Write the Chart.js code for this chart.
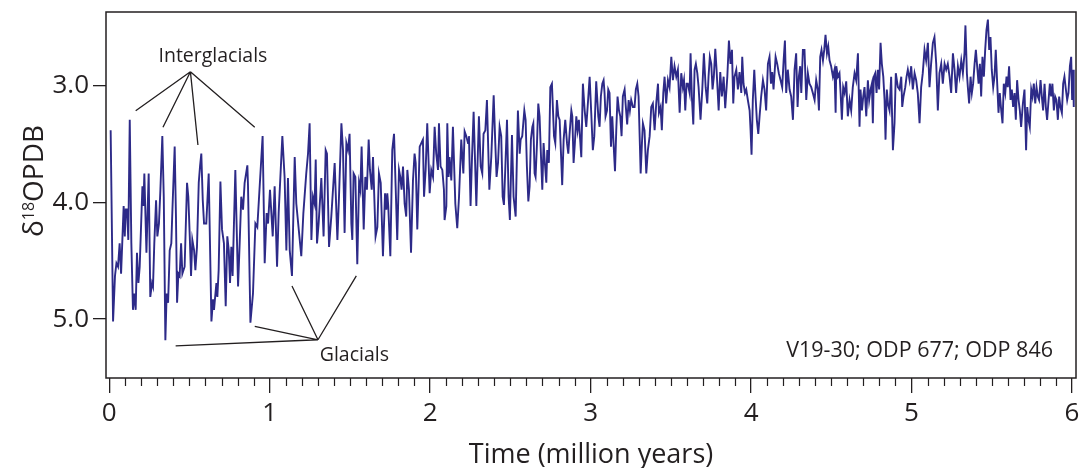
<!DOCTYPE html>
<html>
<head>
<meta charset="utf-8">
<script src="https://cdn.jsdelivr.net/npm/chart.js@4.4.1/dist/chart.umd.min.js"></script>
<style>
  html, body { margin: 0; padding: 0; background: #fff; }
  canvas { display: block; }
</style>
</head>
<body>
<canvas id="chart" width="1083" height="468"></canvas>
<script>
// Stacked benthic d18O record, 0-6 Ma (V19-30; ODP 677; ODP 846)
const ages = [
  0.009,0.024,0.036,0.045,0.055,0.065,0.074,0.082,0.090,0.097,
  0.103,0.111,0.119,0.128,0.138,0.148,0.157,0.165,0.173,0.182,
  0.190,0.202,0.207,0.213,0.219,0.232,0.246,0.256,0.267,0.273,
  0.281,0.292,0.300,0.310,0.319,0.331,0.340,0.350,0.358,0.367,
  0.377,0.387,0.394,0.408,0.416,0.423,0.431,0.439,0.448,0.456,
  0.470,0.485,0.493,0.502,0.510,0.518,0.529,0.537,0.547,0.558,
  0.566,0.574,0.583,0.591,0.605,0.620,0.637,0.647,0.653,0.668,
  0.674,0.682,0.693,0.703,0.715,0.726,0.736,0.745,0.753,0.761,
  0.769,0.786,0.803,0.813,0.823,0.834,0.844,0.861,0.865,0.880,
  0.896,0.911,0.923,0.956,0.969,0.981,0.990,1.002,1.019,1.031,
  1.046,1.056,1.079,1.093,1.104,1.114,1.125,1.139,1.156,1.166,
  1.197,1.210,1.228,1.239,1.249,1.260,1.270,1.280,1.287,1.295,
  1.305,1.322,1.336,1.349,1.357,1.370,1.384,1.405,1.422,1.432,
  1.447,1.457,1.467,1.478,1.488,1.498,1.509,1.515,1.523,1.534,
  1.546,1.557,1.565,1.573,1.586,1.596,1.606,1.617,1.625,1.636,
  1.644,1.660,1.671,1.681,1.692,1.706,1.719,1.727,1.733,1.739,
  1.752,1.764,1.775,1.785,1.795,1.806,1.814,1.822,1.831,1.841,
  1.851,1.858,1.868,1.881,1.893,1.903,1.910,1.920,1.928,1.935,
  1.945,1.955,1.962,1.972,1.982,1.997,2.007,2.018,2.028,2.038,
  2.049,2.055,2.065,2.076,2.086,2.090,2.101,2.107,2.115,2.121,
  2.132,2.142,2.157,2.169,2.180,2.194,2.207,2.215,2.225,2.236,
  2.242,2.252,2.261,2.271,2.288,2.304,2.315,2.325,2.333,2.344,
  2.354,2.369,2.381,2.396,2.406,2.414,2.423,2.433,2.443,2.452,
  2.460,2.468,2.479,2.489,2.497,2.510,2.520,2.533,2.547,2.558,
  2.564,2.574,2.587,2.595,2.603,2.612,2.620,2.628,2.637,2.643,
  2.651,2.657,2.666,2.674,2.682,2.691,2.699,2.707,2.715,2.724,
  2.730,2.740,2.749,2.759,2.772,2.780,2.790,2.799,2.807,2.817,
  2.823,2.832,2.842,2.853,2.861,2.869,2.880,2.886,2.894,2.902,
  2.911,2.919,2.927,2.942,2.952,2.963,2.973,2.983,2.994,3.004,
  3.014,3.023,3.035,3.048,3.056,3.064,3.073,3.081,3.087,3.093,
  3.102,3.110,3.118,3.127,3.135,3.143,3.152,3.160,3.168,3.177,
  3.185,3.193,3.201,3.212,3.218,3.228,3.237,3.245,3.253,3.264,
  3.274,3.282,3.291,3.299,3.312,3.320,3.326,3.336,3.347,3.357,
  3.368,3.378,3.388,3.399,3.409,3.420,3.426,3.436,3.444,3.453,
  3.461,3.471,3.482,3.492,3.503,3.513,3.523,3.534,3.544,3.555,
  3.565,3.575,3.582,3.590,3.598,3.606,3.617,3.623,3.631,3.640,
  3.648,3.656,3.665,3.673,3.685,3.696,3.706,3.717,3.727,3.735,
  3.743,3.752,3.760,3.768,3.777,3.785,3.798,3.808,3.818,3.829,
  3.839,3.852,3.862,3.872,3.881,3.889,3.897,3.908,3.918,3.928,
  3.939,3.945,3.953,3.962,3.970,3.980,3.991,3.997,4.003,4.011,
  4.020,4.028,4.036,4.045,4.053,4.063,4.074,4.084,4.094,4.105,
  4.115,4.124,4.132,4.140,4.153,4.163,4.173,4.184,4.194,4.203,
  4.211,4.219,4.229,4.240,4.250,4.261,4.271,4.281,4.290,4.298,
  4.306,4.313,4.323,4.333,4.344,4.354,4.364,4.375,4.385,4.396,
  4.406,4.416,4.423,4.431,4.439,4.448,4.456,4.464,4.473,4.481,
  4.489,4.499,4.510,4.520,4.527,4.531,4.541,4.551,4.558,4.566,
  4.574,4.583,4.593,4.603,4.614,4.624,4.634,4.645,4.655,4.666,
  4.676,4.682,4.691,4.699,4.707,4.718,4.728,4.736,4.745,4.753,
  4.759,4.765,4.774,4.782,4.790,4.798,4.807,4.815,4.824,4.832,
  4.838,4.846,4.853,4.863,4.873,4.884,4.894,4.902,4.915,4.925,
  4.936,4.942,4.950,4.961,4.969,4.977,4.988,4.998,5.008,5.019,
  5.029,5.039,5.050,5.060,5.070,5.081,5.091,5.102,5.112,5.122,
  5.133,5.143,5.154,5.164,5.174,5.185,5.195,5.206,5.216,5.226,
  5.237,5.247,5.258,5.268,5.278,5.289,5.299,5.310,5.320,5.330,
  5.336,5.345,5.351,5.359,5.368,5.376,5.384,5.393,5.401,5.409,
  5.418,5.426,5.434,5.442,5.451,5.459,5.467,5.476,5.484,5.492,
  5.500,5.509,5.517,5.525,5.534,5.542,5.550,5.559,5.567,5.575,
  5.584,5.592,5.600,5.608,5.617,5.625,5.633,5.642,5.650,5.658,
  5.667,5.675,5.683,5.694,5.704,5.714,5.721,5.729,5.737,5.746,
  5.754,5.762,5.771,5.779,5.787,5.795,5.804,5.812,5.820,5.829,
  5.837,5.845,5.854,5.862,5.870,5.878,5.887,5.895,5.903,5.912,
  5.920,5.928,5.937,5.945,5.953,5.962,5.970,5.978,5.987,5.995,
  6.001,6.007,6.011
];

const d18O = [
  3.38,5.02,4.63,4.52,4.55,4.35,4.61,4.32,4.03,4.29,
  4.06,4.06,4.32,3.29,4.35,4.92,4.78,4.92,4.43,4.69,
  4.55,4.06,3.86,4.03,3.75,4.43,3.75,4.81,4.69,4.72,
  4.35,3.98,4.29,4.18,3.89,3.43,3.95,5.18,4.78,4.86,
  4.41,4.35,4.06,3.52,4.12,4.86,4.61,4.63,4.35,4.61,
  4.55,3.83,3.95,4.29,4.63,4.32,4.41,4.58,4.38,3.83,
  3.69,3.58,3.98,4.18,4.18,3.75,5.02,4.83,4.92,4.69,
  4.81,4.58,3.82,4.23,4.35,4.89,4.29,4.41,4.69,4.38,
  4.63,3.72,4.72,4.35,3.95,4.06,3.83,3.68,3.86,5.03,
  4.78,4.18,4.21,3.43,4.52,4.09,4.18,3.89,4.29,3.86,
  4.55,4.09,3.43,3.78,4.41,3.79,4.41,4.63,3.61,4.01,
  4.46,4.09,3.75,3.58,3.32,4.32,3.95,4.01,3.63,4.35,
  4.18,3.79,4.29,3.55,3.58,4.38,4.12,3.66,4.32,3.95,
  3.32,3.55,4.26,3.49,3.55,3.41,4.18,4.32,3.75,3.78,
  4.53,3.83,3.89,3.52,4.23,3.78,3.89,3.46,3.72,3.89,
  3.61,4.29,4.21,3.75,3.83,4.46,3.92,4.06,3.92,4.03,
  4.46,3.55,3.41,3.86,4.32,3.72,3.78,3.89,3.69,4.01,
  4.12,3.72,3.89,4.43,3.81,3.58,3.66,4.23,3.86,3.52,
  3.49,3.46,3.95,3.72,3.32,3.92,3.72,3.78,3.35,3.58,
  3.72,3.32,3.69,3.72,3.89,4.15,4.03,3.32,3.78,3.61,
  3.81,3.35,4.01,4.22,3.95,3.46,3.75,3.39,3.43,3.49,
  3.43,4.03,3.61,3.22,4.03,3.26,3.69,3.75,3.41,3.38,
  3.12,3.89,3.61,3.08,3.49,3.78,3.66,3.35,3.43,3.95,
  4.02,3.72,3.29,3.95,4.15,3.42,3.95,4.12,3.21,3.58,
  3.46,3.43,3.21,3.29,3.69,3.99,3.86,3.46,3.35,3.32,
  3.75,3.78,3.49,3.15,3.26,3.61,3.89,3.49,3.66,3.83,
  3.55,3.66,3.01,2.98,3.43,3.49,3.12,3.26,3.29,3.63,
  3.85,3.46,3.29,3.49,3.58,3.41,3.21,3.26,3.66,3.49,
  3.26,3.38,3.29,3.61,2.98,3.21,3.35,3.15,2.92,3.23,
  3.55,3.43,2.96,3.26,3.35,3.09,2.98,2.95,3.06,3.26,
  3.21,3.03,3.06,3.52,3.26,3.49,3.73,3.38,3.09,3.21,
  3.26,3.43,3.09,3.03,3.15,3.33,3.12,3.21,3.12,3.18,
  3.18,3.03,2.98,3.09,3.75,3.49,3.32,3.38,3.75,3.55,
  3.43,3.18,3.15,3.38,3.15,2.98,3.23,3.18,3.38,3.06,
  2.92,3.15,2.95,3.01,2.75,2.95,2.83,2.92,2.86,3.23,
  2.89,3.01,2.95,3.21,2.98,2.98,3.06,2.72,3.09,3.33,
  2.86,2.81,2.89,3.01,3.29,3.03,2.72,3.01,3.15,2.92,
  2.75,2.81,3.03,2.92,2.68,2.86,3.21,2.88,3.09,2.92,
  3.19,2.92,2.61,2.81,2.69,3.15,2.92,2.86,3.03,2.88,
  3.06,2.75,2.98,3.06,3.03,3.12,3.21,3.38,3.59,3.12,
  2.86,3.09,3.29,3.41,3.26,3.09,2.95,3.03,3.21,2.81,
  2.75,2.98,2.88,3.03,2.75,2.81,2.89,2.95,3.01,2.78,
  2.61,3.06,2.86,3.03,3.09,3.29,2.86,2.72,3.18,2.92,
  2.83,3.06,2.69,2.69,3.12,2.89,2.98,3.01,3.06,3.12,
  2.95,3.03,3.21,2.75,2.69,2.78,2.69,2.56,2.72,2.66,
  2.78,2.83,2.92,2.86,3.23,2.83,2.92,2.89,3.06,3.29,
  3.01,3.06,2.96,3.26,3.12,3.21,3.01,2.89,2.95,2.72,
  3.35,3.03,3.21,3.09,3.01,3.26,2.95,3.12,3.03,2.98,
  3.32,2.92,2.89,3.06,2.86,3.03,2.63,2.81,2.92,3.12,
  3.46,3.03,3.15,3.21,2.92,3.55,3.32,2.89,3.01,3.03,
  2.92,3.18,3.09,3.01,2.92,2.86,2.95,2.83,3.03,2.89,
  2.95,3.06,3.32,3.01,2.89,2.69,2.78,2.63,3.01,2.81,
  2.63,2.58,2.81,3.21,2.89,2.81,2.98,2.81,2.86,2.81,
  2.92,3.06,2.72,2.86,3.06,2.83,2.92,2.78,2.89,2.72,
  2.48,2.89,3.01,3.15,2.92,3.06,2.98,2.81,2.69,2.83,
  2.98,2.81,3.09,2.75,2.92,2.69,2.52,2.43,2.69,2.58,
  2.86,3.01,2.92,2.69,2.98,3.23,3.06,3.21,3.32,2.98,
  3.06,2.92,3.01,2.83,3.12,3.03,3.18,3.06,3.29,2.95,
  3.12,3.21,3.35,3.15,3.03,3.55,3.18,3.29,3.35,3.03,
  3.09,2.98,3.15,3.01,3.09,3.12,2.95,3.09,3.21,2.98,
  3.18,3.29,3.12,2.98,3.09,2.98,3.21,3.09,3.12,3.29,
  3.09,3.18,3.23,2.98,2.92,3.03,3.12,3.06,2.83,2.75,
  3.12,2.86,3.18
];

if (ages.length !== d18O.length) {
  throw new Error('ages/d18O length mismatch: ' + ages.length + ' vs ' + d18O.length);
}

const xTickValues = [0, 1, 2, 3, 4, 5, 6];
const yTickValues = [3.0, 4.0, 5.0];

// pointer lines for the labels, in (age, d18O) units
const interglacialHub = [0.506, 2.877];
const interglacialTips = [[0.165, 3.212], [0.335, 3.354], [0.553, 3.506], [0.907, 3.354]];
const glacialHub = [1.301, 5.177];
const glacialTips = [[0.414, 5.229], [0.907, 5.063], [1.139, 4.715], [1.540, 4.629]];

const FONT = '"Open Sans", "Noto Sans", sans-serif';
const INK = '#231f20';
const LINE_BLUE = '#2d2a88';

const decorations = {
  id: 'decorations',
  afterDraw(chart) {
    const { ctx, chartArea: a, scales: { x, y } } = chart;
    ctx.save();

    // plot frame
    ctx.strokeStyle = INK;
    ctx.lineWidth = 1.5;
    ctx.strokeRect(a.left, a.top, a.right - a.left, a.bottom - a.top);

    // minor ticks every 0.1 Myr
    ctx.lineWidth = 1.2;
    ctx.beginPath();
    for (let i = 1; i < 60; i++) {
      if (i % 10 === 0) continue;
      const px = Math.round(x.getPixelForValue(i / 10)) + 0.5;
      ctx.moveTo(px, a.bottom);
      ctx.lineTo(px, a.bottom + 8);
    }
    ctx.stroke();

    // pointer lines
    ctx.lineWidth = 1.3;
    ctx.beginPath();
    for (const [hub, tips] of [[interglacialHub, interglacialTips], [glacialHub, glacialTips]]) {
      const hx = x.getPixelForValue(hub[0]), hy = y.getPixelForValue(hub[1]);
      for (const t of tips) {
        ctx.moveTo(hx, hy);
        ctx.lineTo(x.getPixelForValue(t[0]), y.getPixelForValue(t[1]));
      }
    }
    ctx.stroke();

    ctx.fillStyle = INK;
    ctx.textBaseline = 'alphabetic';
    ctx.font = '19.5px ' + FONT;
    ctx.textAlign = 'left';
    ctx.fillText('Interglacials', x.getPixelForValue(0.307), y.getPixelForValue(2.794));
    ctx.fillText('Glacials', x.getPixelForValue(1.312), y.getPixelForValue(5.357));

    ctx.font = '21.5px ' + FONT;
    ctx.textAlign = 'right';
    ctx.fillText('V19-30; ODP 677; ODP 846', a.right - 23, a.bottom - 21);

    // rotated y title with superscript 18
    ctx.translate(43, 181);
    ctx.rotate(-Math.PI / 2);
    const big = '28px ' + FONT, small = '16px ' + FONT;
    ctx.font = big;
    const wd = ctx.measureText('\u03b4').width;
    const wo = ctx.measureText('OPDB').width;
    ctx.font = small;
    const ws = ctx.measureText('18').width;
    let cx = -(wd + ws + wo) / 2;
    ctx.textAlign = 'left';
    ctx.font = big;
    ctx.fillText('\u03b4', cx, 0);
    cx += wd;
    ctx.font = small;
    ctx.fillText('18', cx, -9);
    cx += ws;
    ctx.font = big;
    ctx.fillText('OPDB', cx, 0);

    ctx.restore();
  }
};

new Chart(document.getElementById('chart'), {
  type: 'line',
  data: {
    datasets: [{
      data: ages.map((t, i) => ({ x: t, y: d18O[i] })),
      borderColor: LINE_BLUE,
      borderWidth: 1.9,
      pointRadius: 0,
      tension: 0,
      fill: false
    }]
  },
  options: {
    responsive: false,
    animation: false,
    layout: { padding: { top: 12, right: 7, left: 0, bottom: 0 } },
    plugins: { legend: { display: false }, tooltip: { enabled: false } },
    scales: {
      x: {
        type: 'linear',
        min: -0.02,
        max: 6.025,
        afterBuildTicks: s => { s.ticks = xTickValues.map(v => ({ value: v })); },
        afterFit: s => { s.height = 90; s.paddingLeft = 0; s.paddingRight = 0; },
        border: { display: false },
        grid: { drawOnChartArea: false, tickLength: 15, color: INK, lineWidth: 1.3 },
        ticks: {
          callback: v => String(v),
          color: INK,
          font: { family: FONT, size: 26 },
          padding: 5,
          maxRotation: 0,
          autoSkip: false
        },
        title: {
          display: true,
          text: 'Time (million years)',
          color: INK,
          font: { family: FONT, size: 27 },
          padding: { top: 0, bottom: -4 }
        }
      },
      y: {
        reverse: true,
        min: 2.365,
        max: 5.505,
        afterBuildTicks: s => { s.ticks = yTickValues.map(v => ({ value: v })); },
        afterFit: s => { s.width = 106; s.paddingTop = 0; s.paddingBottom = 0; },
        border: { display: false },
        grid: { drawOnChartArea: false, tickLength: 13, color: INK, lineWidth: 1.3 },
        ticks: {
          callback: v => v.toFixed(1),
          color: INK,
          font: { family: FONT, size: 26 },
          padding: 4
        }
      }
    }
  },
  plugins: [decorations]
});
</script>
</body>
</html>
